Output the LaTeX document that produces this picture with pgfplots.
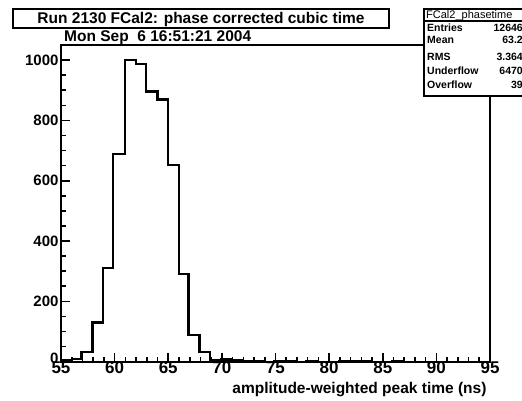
\documentclass[border=0pt]{standalone}
\usepackage{pgfplots}
\pgfplotsset{compat=1.18}
\usepackage{fontspec}
\setmainfont{Liberation Sans}
\begin{document}
\begin{tikzpicture}[x=1pt,y=1pt]
\useasboundingbox (0,0) rectangle (522,400);
\clip (0,0) rectangle (522,400);
\begin{axis}[
  at={(61pt,38.3pt)}, anchor=south west,
  scale only axis, width=429pt, height=316.7pt,
  xmin=55, xmax=95, ymin=0, ymax=1050,
  xtick={55,60,...,95}, minor x tick num=4,
  ytick={0,200,...,1000}, minor y tick num=3,
  yticklabels={\raisebox{6pt}{0},200,400,600,800,1000},
  xtick pos=left, ytick pos=left,
  tick align=inside,
  major tick length=9pt, minor tick length=5pt,
  every tick/.style={black, line width=1.6pt},
  axis line style={line width=2pt},
  /pgf/number format/assume math mode=true,
  /pgf/number format/1000 sep={},
  x tick label style={font=\fontsize{17}{18}\selectfont\bfseries, yshift=1pt, inner ysep=1pt},
  y tick label style={font=\fontsize{15}{16}\selectfont\bfseries, xshift=1pt},
  xlabel={amplitude-weighted peak time (ns)},
  xlabel style={font=\fontsize{15.5}{17}\selectfont\bfseries, at={(rel axis cs:1,0)}, anchor=north east, yshift=-17pt},
  clip=false,
]
\addplot[const plot, black, line width=2.3pt, line join=miter] coordinates {
(55,6) (56,9) (56.9,33) (57.95,130) (58.9,310) (59.85,689) (60.95,1000)
(61.97,986) (62.9,896) (64.0,869) (65.0,653) (66.0,290) (66.9,89) (67.9,33)
(68.9,5) (69.9,7) (70.9,6) (71.9,2) (72.9,1) (73.9,0) (74.9,2) (75.9,1)
(76.9,0) (77.9,1) (78.9,0) (80.9,2) (81.9,1) (82.9,1) (83.9,0) (85.9,1)
(86.9,0) (95,0)
};
\end{axis}
% title box
\draw[line width=1.6pt, fill=white] (12.7,391) rectangle (389,372);
\node[anchor=base, font=\fontsize{15.5}{17}\selectfont\bfseries, inner sep=0pt] at (201,376) {Run 2130 FCal2: phase corrected cubic time};
\node[anchor=base west, font=\fontsize{15.5}{17}\selectfont\bfseries, inner sep=0pt] at (64,359) {Mon Sep~~6 16:51:21 2004};
% stats box
\draw[line width=1.6pt, fill=white] (424,391) rectangle (540,304);
\draw[line width=1.2pt] (424,379) -- (540,379);
\node[anchor=base west, inner sep=0pt, font=\fontsize{11}{12}\selectfont] at (426,381.5) {FCal2\_phasetime};
\begin{scope}[every node/.style={inner sep=0pt, font=\fontsize{10.5}{12}\selectfont\bfseries}]
\node[anchor=base west] at (427,368) {Entries};
\node[anchor=base east] at (523,368) {12646};
\node[anchor=base west] at (427,356) {Mean};
\node[anchor=base east] at (523,356) {63.2};
\node[anchor=base west] at (427,340) {RMS};
\node[anchor=base east] at (523,340) {3.364};
\node[anchor=base west] at (427,326) {Underflow};
\node[anchor=base east] at (523,326) {6470};
\node[anchor=base west] at (427,312) {Overflow};
\node[anchor=base east] at (523,312) {39};
\end{scope}
\end{tikzpicture}
\end{document}
